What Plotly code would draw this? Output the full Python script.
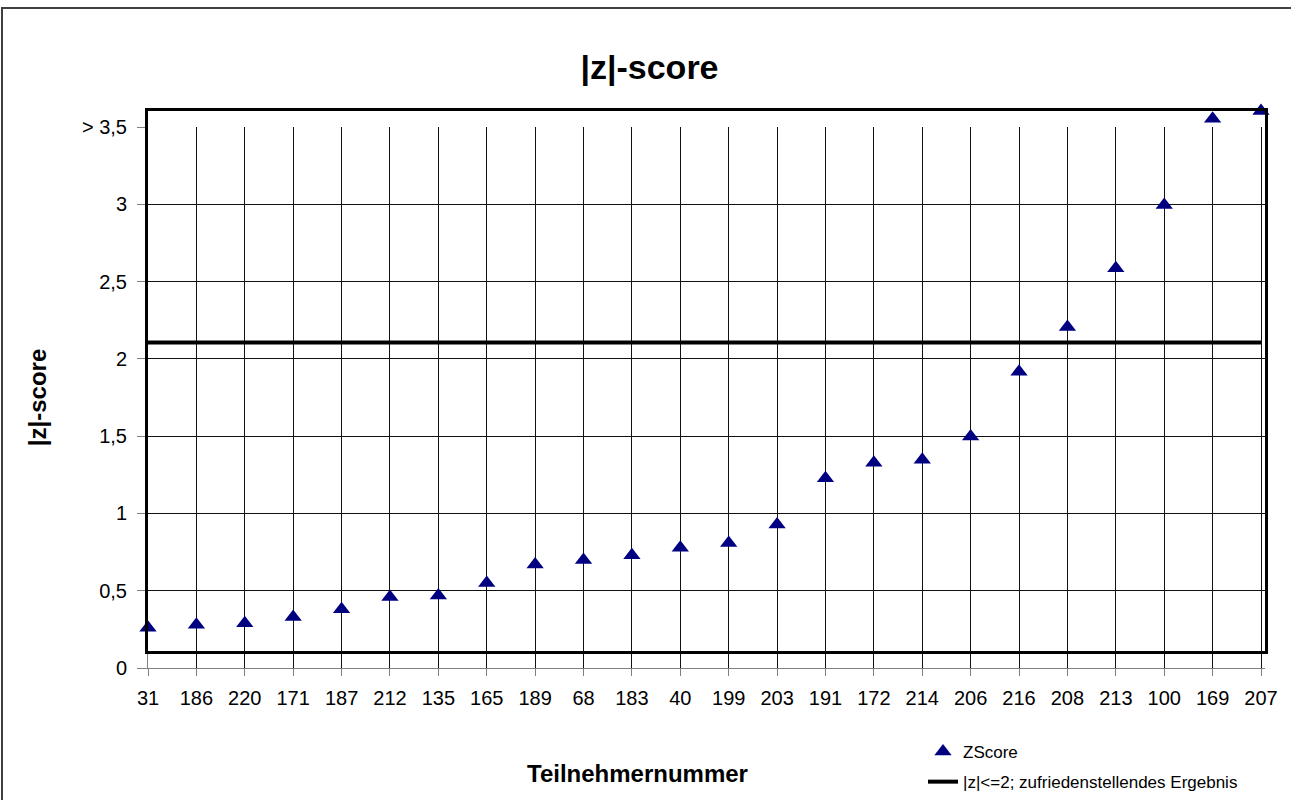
import plotly.graph_objects as go

# ---------------- data ----------------
participants = ["31", "186", "220", "171", "187", "212", "135", "165", "189", "68",
                "183", "40", "199", "203", "191", "172", "214", "206", "216", "208",
                "213", "100", "169", "207"]
zscores = [0.15, 0.17, 0.18, 0.22, 0.27, 0.35, 0.36, 0.44, 0.56, 0.59,
           0.62, 0.67, 0.70, 0.82, 1.12, 1.22, 1.24, 1.39, 1.81, 2.10,
           2.48, 2.89, 3.45, 3.50]
limit_value = 2.0
limit_line = [limit_value] * len(participants)

y_tick_vals = [0, 0.5, 1, 1.5, 2, 2.5, 3, 3.5]
y_tick_text = ["0", "0,5", "1", "1,5", "2", "2,5", "3", "> 3,5"]

title_text = "|z|-score"
x_title = "Teilnehmernummer"
y_title = "|z|-score"
series_name = "ZScore"
limit_name = "|z|<=2; zufriedenstellendes Ergebnis"

FONT = "Liberation Sans, Arial, sans-serif"

# ---------------- geometry (pixels) ----------------
W, H = 1291, 800
L, R, T, B = 148, 1265, 111, 668          # plot area
ML, MR, MT, MB = L, W - R, T, H - B
PH = B - T
prim_top = (B - 127) / PH                  # primary axis 3.5 at y=127
frame_bottom = (B - 651) / PH              # frame / data axis 0 at y=651
n = len(participants)
x_range = [0, (n - 1) + 4 / ((1261 - 148) / (n - 1))]

fig = go.Figure()

# invisible trace so that the scale axes (x / y) are drawn
fig.add_trace(go.Scatter(
    x=participants, y=[None] * n, xaxis="x", yaxis="y",
    mode="markers", showlegend=False, hoverinfo="skip",
))
fig.add_trace(go.Scatter(
    x=participants, y=zscores, xaxis="x2", yaxis="y2",
    mode="markers", name=series_name, legendgroup="a",
    marker=dict(symbol="triangle-up", size=15, color="#000080"),
    cliponaxis=False,
))
fig.add_trace(go.Scatter(
    x=participants, y=limit_line, xaxis="x2", yaxis="y2",
    mode="lines", name=limit_name, legendgroup="b",
    line=dict(color="black", width=4),
    cliponaxis=False,
))

fig.update_layout(
    width=W, height=H,
    margin=dict(l=ML, r=MR, t=MT, b=MB, pad=0, autoexpand=False),
    paper_bgcolor="white",
    plot_bgcolor="rgba(0,0,0,0)",
    font=dict(family=FONT, color="black", size=20),
    title=dict(text=f"<b>{title_text}</b>", x=649.5 / W, xref="container",
               y=1 - 67 / H, yref="container", xanchor="center", yanchor="middle",
               font=dict(size=34, family=FONT, color="black")),
    xaxis=dict(
        type="category", domain=[0, 1], anchor="y", range=x_range,
        showgrid=True, gridcolor="#111111", gridwidth=1,
        showline=True, linecolor="#808080", linewidth=1,
        ticks="outside", ticklen=7, tickcolor="#808080", tickwidth=1,
        tickfont=dict(size=20, family=FONT, color="black"),
        ticklabelstandoff=5,
        zeroline=False, automargin=False,
    ),
    yaxis=dict(
        domain=[0, prim_top], anchor="x", range=[0, 3.5],
        tickvals=y_tick_vals, ticktext=y_tick_text,
        showgrid=True, gridcolor="#111111", gridwidth=1,
        showline=True, linecolor="#808080", linewidth=1,
        ticks="outside", ticklen=10, tickcolor="#808080", tickwidth=1,
        tickfont=dict(size=20, family=FONT, color="black"),
        ticklabelstandoff=6,
        zeroline=False,
        title=dict(text=f"<b>{y_title}</b>", font=dict(size=24, family=FONT, color="black"),
                   standoff=28),
        automargin=False,
    ),
    xaxis2=dict(
        type="category", domain=[0, 1], anchor="y2", matches="x",
        showgrid=False, showticklabels=False, ticks="",
        showline=True, mirror=True, linecolor="black", linewidth=3,
        zeroline=False, automargin=False,
    ),
    yaxis2=dict(
        domain=[frame_bottom, 1], anchor="x2", range=[0, 3.5],
        showgrid=False, showticklabels=False, ticks="",
        showline=True, mirror=True, linecolor="black", linewidth=3,
        zeroline=False, automargin=False,
    ),
    showlegend=True,
    legend=dict(
        x=(923 - L) / (R - L), xanchor="left",
        y=(B - 734) / PH, yanchor="top",
        font=dict(size=17, family=FONT, color="black"),
        bgcolor="rgba(0,0,0,0)", borderwidth=0,
        tracegroupgap=5, traceorder="grouped",
    ),
    annotations=[dict(
        text=f"<b>{x_title}</b>", xref="paper", yref="paper",
        x=(637 - L) / (R - L), y=(B - 773) / PH,
        xanchor="center", yanchor="middle", showarrow=False,
        font=dict(size=24, family=FONT, color="black"),
    )],
    shapes=[dict(
        type="rect", xref="paper", yref="paper", layer="below",
        x0=(2 - L) / (R - L), x1=(1400 - L) / (R - L),
        y0=(B - 900) / PH, y1=(B - 8) / PH,
        line=dict(color="#404040", width=2), fillcolor="rgba(0,0,0,0)",
    )],
)

fig.write_html("out.html", config={"displayModeBar": False},
               post_script="document.body.style.margin='0';")
